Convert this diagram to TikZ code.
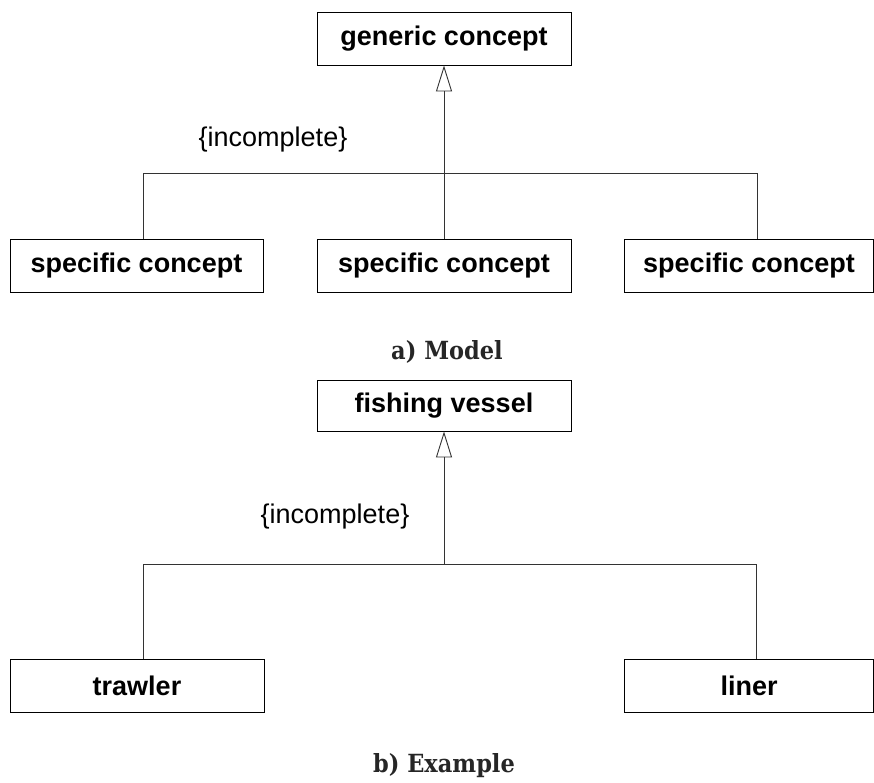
\documentclass[tikz,border=0pt]{standalone}
\usepackage{fontspec}
\setmainfont{Liberation Sans}
\newfontfamily\capfont{DejaVu Serif Condensed}
\usetikzlibrary{arrows.meta}

\begin{document}
\begin{tikzpicture}[x=1pt,y=1pt,
    concept/.style={draw, line width=0.9pt, minimum width=254pt, minimum height=53pt, inner sep=0pt, font=\fontsize{27}{32}\selectfont\bfseries},
    gen/.style={line width=0.9pt, draw=black!80},
    constraint/.style={font=\fontsize{27}{32}\selectfont},
    caption/.style={anchor=base, font=\fontsize{25}{30}\selectfont\capfont\bfseries, text=black!85}]
      \useasboundingbox (0,0) rectangle (874,782);
      % a) model
      \node [concept] (generic) at (444,743.5) {generic concept};
      \node [concept, minimum width=253pt] (specA) at (136.5,516) {specific concept};
      \node [concept] (specB) at (444,516) {specific concept};
      \node [concept, minimum width=249pt] (specC) at (749,516) {specific concept};
      \node [constraint] (incA) at (273,642) {\{incomplete\}};
      \coordinate (jA) at (143,609);
      \coordinate (jB) at (444,609);
      \coordinate (jC) at (757,609);
      \draw [gen] (jA |- specA.north) -- (jA) -- (jC) -- (jC |- specC.north);
      \draw [gen] (specB.north) -- (jB);
      \draw [gen, -{Triangle[open, length=26pt, width=16pt]}] (jB) -- (generic.south);
      \node [caption] (capA) at (447,422) {a) Model};
      % b) example
      \node [concept, minimum height=51pt] (vessel) at (444,376.5) {fishing vessel};
      \node [concept] (trawler) at (137,96.5) {trawler};
      \node [concept, minimum width=249pt] (liner) at (749,96.5) {liner};
      \node [constraint] (incB) at (335,265) {\{incomplete\}};
      \coordinate (jD) at (143,218);
      \coordinate (jE) at (444,218);
      \coordinate (jF) at (756,218);
      \draw [gen] (jD |- trawler.north) -- (jD) -- (jF) -- (jF |- liner.north);
      \draw [gen, -{Triangle[open, length=26pt, width=16pt]}] (jE) -- (vessel.south);
      \node [caption] (capB) at (444,10) {b) Example};
\end{tikzpicture}
\end{document}
